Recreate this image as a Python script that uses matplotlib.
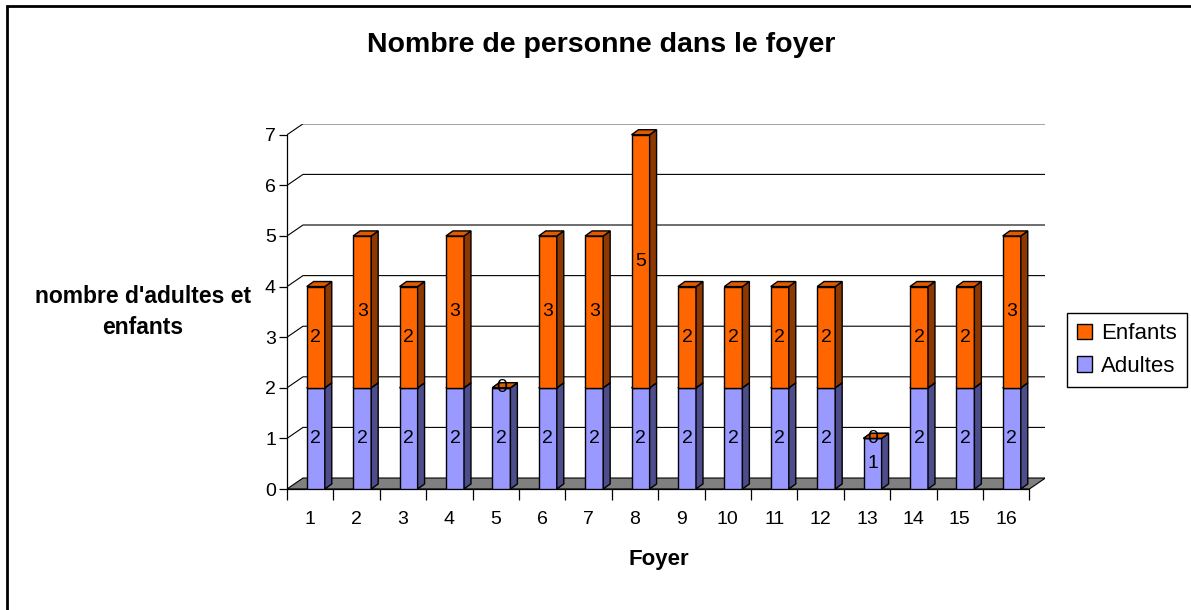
import matplotlib
matplotlib.use("Agg")
import matplotlib.pyplot as plt
from matplotlib.patches import Polygon, Patch, Rectangle
import numpy as np

# ---- data ----
foyers = list(range(1, 17))
adultes = [2, 2, 2, 2, 2, 2, 2, 2, 2, 2, 2, 2, 1, 2, 2, 2]
enfants = [2, 3, 2, 3, 0, 3, 3, 5, 2, 2, 2, 2, 0, 2, 2, 3]
series = [("Adultes", adultes, "#9999FF", "#4D4D8C", "#7A7AD6"),
          ("Enfants", enfants, "#FF6600", "#8C3800", "#E05A00")]

plt.rcParams['font.family'] = ['Liberation Sans', 'DejaVu Sans']

fig = plt.figure(figsize=(11.91, 6.10), dpi=100)

# fake 3d depth (wall) and bar depth, in data units
DX, DY = 0.345, 0.217
bdx, bdy = 0.15, 0.10
off, w = 0.12, 0.39

ax = fig.add_axes([287 / 1191, 121 / 610, 758.4 / 1191, 365.2 / 610])
ax.set_xlim(0.5, 16.5 + DX)
ax.set_ylim(0, 7 + DY)
ax.patch.set_visible(False)

# floor
ax.add_patch(Polygon([(0.5, 0), (16.5, 0), (16.5 + DX, DY), (0.5 + DX, DY)],
                     closed=True, facecolor="#808080", edgecolor="black", lw=0.8, zorder=1))
# back wall gridlines
for k in range(1, 8):
    ax.plot([0.5, 0.5 + DX, 16.5 + DX], [k, k + DY, k + DY], color="black", lw=0.8, zorder=0.5)

# bars
x = np.array(foyers) + off
bottom = np.zeros(len(foyers))
for i, (name, vals, fc, side, top) in enumerate(series):
    vals = np.array(vals, dtype=float)
    z = 3 + i
    ax.bar(x, vals, w, bottom=bottom, color=fc, edgecolor="black", lw=1.0, zorder=z)
    for xi, b, h in zip(x, bottom, vals):
        r = xi + w / 2
        l = xi - w / 2
        ax.add_patch(Polygon([(r, b), (r + bdx, b + bdy), (r + bdx, b + h + bdy), (r, b + h)],
                             closed=True, facecolor=side, edgecolor="black", lw=1.0, zorder=z))
        ax.add_patch(Polygon([(l, b + h), (r, b + h), (r + bdx, b + h + bdy), (l + bdx, b + h + bdy)],
                             closed=True, facecolor=top, edgecolor="black", lw=1.0, zorder=z))
        ax.text(xi, b + h / 2, f"{int(h)}", ha="center", va="center", fontsize=14, zorder=10)
    bottom = bottom + vals

# axes (front plane)
for s in ["top", "right"]:
    ax.spines[s].set_visible(False)
ax.spines["left"].set_bounds(0, 7)
ax.spines["bottom"].set_bounds(0.5, 16.5)
ax.spines["left"].set_linewidth(0.9)
ax.spines["bottom"].set_linewidth(0.9)
ax.set_yticks(range(0, 8))
ax.set_xticks(foyers)
ax.set_xticks(np.arange(0.5, 17, 1), minor=True)
ax.tick_params(axis="y", length=6, width=0.9, labelsize=14, pad=2)
ax.tick_params(axis="x", which="major", length=0, labelsize=14, pad=16)
ax.tick_params(axis="x", which="minor", length=8, width=0.9)

fig.text(601 / 1191, 1 - 45 / 610, "Nombre de personne dans le foyer",
         ha="center", va="center", fontsize=20.5, fontweight="bold")
fig.text(143 / 1191, 1 - 312 / 610, "nombre d'adultes et\nenfants",
         ha="center", va="center", fontsize=16.5, fontweight="bold", linespacing=1.45)
fig.text(659 / 1191, 1 - 560 / 610, "Foyer", ha="center", va="center",
         fontsize=16, fontweight="bold")

handles = [Patch(facecolor="#FF6600", edgecolor="black", label="Enfants"),
           Patch(facecolor="#9999FF", edgecolor="black", label="Adultes")]
fig.legend(handles=handles, loc="center", bbox_to_anchor=(1127 / 1191, 1 - 350 / 610),
           fancybox=False, edgecolor="black", framealpha=1, fontsize=16,
           handlelength=0.7, handleheight=0.7, handletextpad=0.4, labelspacing=0.5,
           borderpad=0.45, borderaxespad=0)

# chart border
fig.patches.append(Rectangle((7 / 1191, -0.05), 1.2, 1 - 6 / 610 + 0.05, transform=fig.transFigure,
                             fill=False, edgecolor="black", lw=2, figure=fig))

fig.savefig("out.png", dpi=100)
